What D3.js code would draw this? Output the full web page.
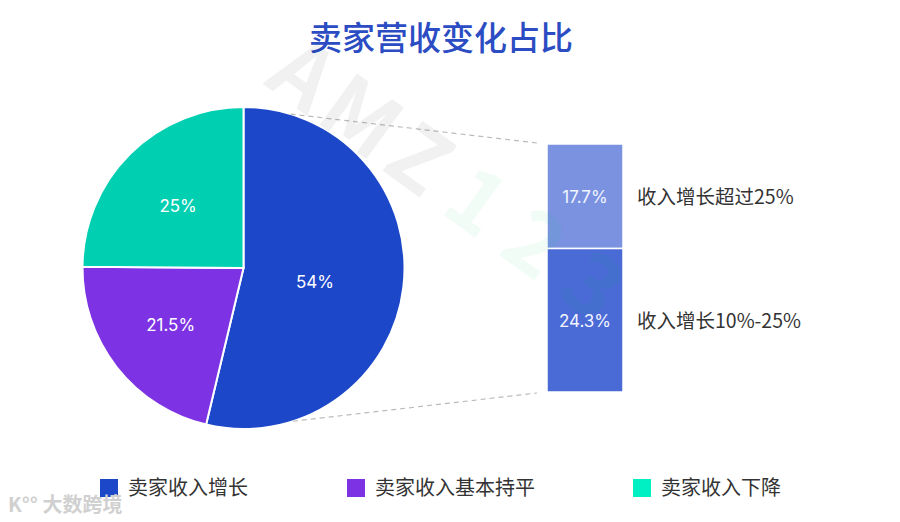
<!DOCTYPE html>
<html>
<head>
<meta charset="utf-8">
<script src="https://cdn.jsdelivr.net/npm/d3@7"></script>
<style>
  body { margin: 0; background: #fff; }
  svg { display: block; font-family: "Noto Sans CJK SC", "Noto Sans", sans-serif; }
  .num { font-family: Inter, Roboto, "Noto Sans", sans-serif; }
</style>
</head>
<body>
<svg id="chart"></svg>
<script>
const width = 900, height = 522;

// pie: seller revenue change
const pieLabels = ['卖家收入增长', '卖家收入基本持平', '卖家收入下降'];
const pieValues = [54, 21.5, 25];
const pieText = ['54%', '21.5%', '25%'];
const pieColors = ['#1c47c9', '#7d33e3', '#00cfb1'];
const legendColors = ['#1c47c9', '#7d33e3', '#00f0c4'];

// bar: breakdown of the growth slice
const barLabels = ['收入增长超过25%', '收入增长10%-25%'];
const barValues = [17.7, 24.3];
const barColors = ['#7a92e0', '#4a6ad6'];

// watermark letters
const watermark = ['A', 'M', 'Z', '1', '2', '3'];
const watermarkColors = ['#000', '#000', '#000', '#0c6', '#0c6', '#0c6'];

const svg = d3.select('#chart')
  .attr('width', width)
  .attr('height', height);

svg.append('text')
  .attr('x', 441)
  .attr('y', 50)
  .attr('text-anchor', 'middle')
  .attr('font-size', 33)
  .attr('font-weight', 500)
  .attr('fill', '#2b4cc3')
  .text('卖家营收变化占比');

const cx = 243.5, cy = 268, r = 161;
const pieG = svg.append('g').attr('transform', `translate(${cx},${cy})`);

const pie = d3.pie().sort(null).value(d => d);
const arcs = pie(pieValues);
const arc = d3.arc().innerRadius(0).outerRadius(r);

pieG.selectAll('path.slice')
  .data(arcs)
  .enter()
  .append('path')
  .attr('class', 'slice')
  .attr('d', arc)
  .attr('fill', (d, i) => pieColors[i])
  .attr('stroke', '#fff')
  .attr('stroke-width', 2);

const labelR = d => (d.endAngle - d.startAngle) > Math.PI ? 74 : 90;
pieG.selectAll('text.pl')
  .data(arcs)
  .enter()
  .append('text')
  .attr('class', 'pl num')
  .attr('x', d => Math.sin((d.startAngle + d.endAngle) / 2) * labelR(d) - 2)
  .attr('y', d => -Math.cos((d.startAngle + d.endAngle) / 2) * labelR(d) + ((d.endAngle - d.startAngle) > Math.PI ? 5 : 2))
  .attr('dy', '0.35em')
  .attr('text-anchor', 'middle')
  .attr('font-size', 17)
  .attr('fill', '#fff')
  .text((d, i) => pieText[i]);

// stacked bar
const barX = 547, barW = 76, barTop = 144, barBottom = 392;
const barY = d3.scaleLinear()
  .domain([0, d3.sum(barValues)])
  .range([barTop, barBottom]);

let acc = 0;
const stack = barValues.map(v => { const s = { y0: acc, y1: acc + v, v }; acc += v; return s; });

svg.selectAll('rect.seg')
  .data(stack)
  .enter()
  .append('rect')
  .attr('class', 'seg')
  .attr('x', barX)
  .attr('y', d => barY(d.y0))
  .attr('width', barW)
  .attr('height', d => barY(d.y1) - barY(d.y0))
  .attr('fill', (d, i) => barColors[i])
  .attr('stroke', '#fff')
  .attr('stroke-width', 1.5);

svg.selectAll('text.bv')
  .data(stack)
  .enter()
  .append('text')
  .attr('class', 'bv num')
  .attr('x', barX + barW / 2)
  .attr('y', d => (barY(d.y0) + barY(d.y1)) / 2 + 1)
  .attr('dy', '0.35em')
  .attr('text-anchor', 'middle')
  .attr('font-size', 17)
  .attr('fill', '#f2f4ff')
  .text(d => d.v + '%');

svg.selectAll('text.bl')
  .data(stack)
  .enter()
  .append('text')
  .attr('class', 'bl')
  .attr('x', barX + barW + 14)
  .attr('y', d => (barY(d.y0) + barY(d.y1)) / 2 + 1)
  .attr('dy', '0.35em')
  .attr('font-size', 19.5)
  .attr('fill', '#333')
  .text((d, i) => barLabels[i]);

// connector lines from pie edge to bar
const connAngle = 17 * Math.PI / 180;
const conns = [
  { a: connAngle, y: barY(0) - 1 },
  { a: Math.PI - connAngle - 0.015, y: barY(d3.sum(barValues)) + 1 }
];
svg.selectAll('line.conn')
  .data(conns)
  .enter()
  .append('line')
  .attr('class', 'conn')
  .attr('x1', d => cx + Math.sin(d.a) * r)
  .attr('y1', d => cy - Math.cos(d.a) * r)
  .attr('x2', barX - 10)
  .attr('y2', d => d.y)
  .attr('stroke', '#bbb')
  .attr('stroke-width', 1.2)
  .attr('stroke-dasharray', '5,4');

// legend
const legendX = [100, 347, 633];
const legend = svg.selectAll('g.lg')
  .data(pieLabels)
  .enter()
  .append('g')
  .attr('class', 'lg')
  .attr('transform', (d, i) => `translate(${legendX[i]},488)`);

legend.append('rect')
  .attr('x', 0)
  .attr('y', -9)
  .attr('width', 18)
  .attr('height', 18)
  .attr('fill', (d, i) => legendColors[i]);

legend.append('text')
  .attr('x', 28)
  .attr('dy', '0.35em')
  .attr('font-size', 20)
  .attr('fill', '#333')
  .text(d => d);

// faint watermark, one letter at a time, drawn on top
svg.selectAll('text.wm')
  .data(watermark)
  .enter()
  .append('text')
  .attr('class', 'wm')
  .attr('transform', (d, i) => `translate(${285 + i * 58},${100 + i * 42}) rotate(36)`)
  .attr('text-anchor', 'middle')
  .attr('font-size', 86)
  .attr('font-weight', 'bold')
  .attr('fill', (d, i) => watermarkColors[i])
  .attr('opacity', 0.05)
  .text(d => d);

// logo mark bottom-left
svg.append('text')
  .attr('x', 8)
  .attr('y', 512)
  .attr('font-size', 20)
  .attr('font-weight', 'bold')
  .attr('fill', '#d0d0d0')
  .text('K°° 大数跨境');
</script>
</body>
</html>
